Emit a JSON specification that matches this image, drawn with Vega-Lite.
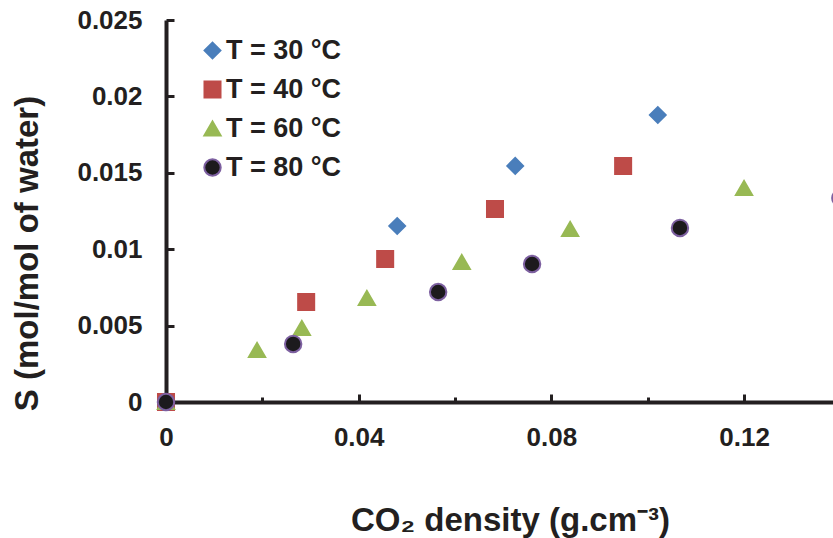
{
  "$schema": "https://vega.github.io/schema/vega-lite/v6.json",
  "width": 667,
  "height": 382,
  "autosize": {"type": "none"},
  "padding": {"left": 166, "top": 20, "right": 0, "bottom": 136},
  "background": "white",
  "config": {
    "view": {"stroke": null},
    "font": "Liberation Sans",
    "axis": {
      "domainColor": "#231F20",
      "domainWidth": 4,
      "tickColor": "#231F20",
      "tickWidth": 3,
      "grid": false,
      "labelFlush": false,
      "labelFont": "Liberation Sans",
      "labelFontSize": 26,
      "labelFontWeight": "bold",
      "labelColor": "#231F20",
      "titleFont": "Liberation Sans",
      "titleFontSize": 33,
      "titleFontWeight": "bold",
      "titleColor": "#231F20"
    }
  },
  "data": {
    "values": [
      {"series": "T = 30 °C", "density": 0, "S": 0},
      {"series": "T = 30 °C", "density": 0.048, "S": 0.01152},
      {"series": "T = 30 °C", "density": 0.0725, "S": 0.01545},
      {"series": "T = 30 °C", "density": 0.1021, "S": 0.01878},
      {"series": "T = 40 °C", "density": 0, "S": 0},
      {"series": "T = 40 °C", "density": 0.0291, "S": 0.00654},
      {"series": "T = 40 °C", "density": 0.0455, "S": 0.00936},
      {"series": "T = 40 °C", "density": 0.0683, "S": 0.01263},
      {"series": "T = 40 °C", "density": 0.0949, "S": 0.01545},
      {"series": "T = 60 °C", "density": 0, "S": 0},
      {"series": "T = 60 °C", "density": 0.0189, "S": 0.0034},
      {"series": "T = 60 °C", "density": 0.0282, "S": 0.00484},
      {"series": "T = 60 °C", "density": 0.0417, "S": 0.0068},
      {"series": "T = 60 °C", "density": 0.0614, "S": 0.00916},
      {"series": "T = 60 °C", "density": 0.0839, "S": 0.01132},
      {"series": "T = 60 °C", "density": 0.12, "S": 0.014},
      {"series": "T = 80 °C", "density": 0, "S": 0},
      {"series": "T = 80 °C", "density": 0.0264, "S": 0.0038},
      {"series": "T = 80 °C", "density": 0.0565, "S": 0.0072},
      {"series": "T = 80 °C", "density": 0.076, "S": 0.00903},
      {"series": "T = 80 °C", "density": 0.1067, "S": 0.01139},
      {"series": "T = 80 °C", "density": 0.14, "S": 0.01335}
    ]
  },
  "resolve": {"axis": {"x": "independent"}},
  "layer": [
    {
      "mark": {"type": "point", "filled": true, "opacity": 1, "strokeWidth": 2},
      "encoding": {
        "x": {
          "field": "density",
          "type": "quantitative",
          "scale": {"domain": [0, 0.13847], "nice": false, "zero": false},
          "axis": {
            "orient": "bottom",
            "values": [0, 0.04, 0.08, 0.12],
            "tickSize": -8,
            "labelPadding": 30,
            "labelExpr": "datum.value == 0 ? '0' : format(datum.value, '~g')",
            "title": "CO₂ density (g.cm⁻³)",
            "titleX": 344,
            "titleY": 128,
            "titleBaseline": "alphabetic",
            "titleAlign": "center"
          }
        },
        "y": {
          "field": "S",
          "type": "quantitative",
          "scale": {"domain": [0, 0.025], "nice": false},
          "axis": {
            "values": [0, 0.005, 0.01, 0.015, 0.02, 0.025],
            "tickSize": -8,
            "labelPadding": 32,
            "labelExpr": "datum.value == 0 ? '0' : format(datum.value, '~g')",
            "title": "S (mol/mol of water)",
            "titleX": -139,
            "titleY": 233,
            "titleAngle": 270,
            "titleAlign": "center",
            "titleBaseline": "middle"
          }
        },
        "shape": {
          "field": "series",
          "type": "nominal",
          "scale": {
            "domain": ["T = 30 °C", "T = 40 °C", "T = 60 °C", "T = 80 °C"],
            "range": ["diamond", "square", "triangle-up", "circle"]
          },
          "legend": {
            "title": null,
            "orient": "none",
            "legendX": 33,
            "legendY": 17,
            "padding": 0,
            "labelFont": "Liberation Sans",
            "labelFontSize": 27,
            "labelFontWeight": "bold",
            "labelColor": "#231F20",
            "labelOffset": 0,
            "rowPadding": 11,
            "symbolStrokeWidth": 2,
            "symbolOpacity": 1
          }
        },
        "fill": {
          "field": "series",
          "type": "nominal",
          "scale": {
            "domain": ["T = 30 °C", "T = 40 °C", "T = 60 °C", "T = 80 °C"],
            "range": ["#4A7EBB", "#BE4B48", "#98B954", "#1C1A1D"]
          }
        },
        "stroke": {
          "field": "series",
          "type": "nominal",
          "scale": {
            "domain": ["T = 30 °C", "T = 40 °C", "T = 60 °C", "T = 80 °C"],
            "range": ["#4A7EBB", "#BE4B48", "#98B954", "#7D60A0"]
          }
        },
        "size": {
          "field": "series",
          "type": "nominal",
          "scale": {
            "domain": ["T = 30 °C", "T = 40 °C", "T = 60 °C", "T = 80 °C"],
            "range": [250, 270, 330, 190]
          }
        }
      }
    },
    {
      "mark": {"type": "point", "opacity": 0},
      "encoding": {
        "x": {
          "field": "density",
          "type": "quantitative",
          "axis": {
            "orient": "bottom",
            "values": [0.02, 0.06, 0.1],
            "labels": false,
            "domain": false,
            "tickSize": -5,
            "title": null
          }
        }
      }
    }
  ]
}
